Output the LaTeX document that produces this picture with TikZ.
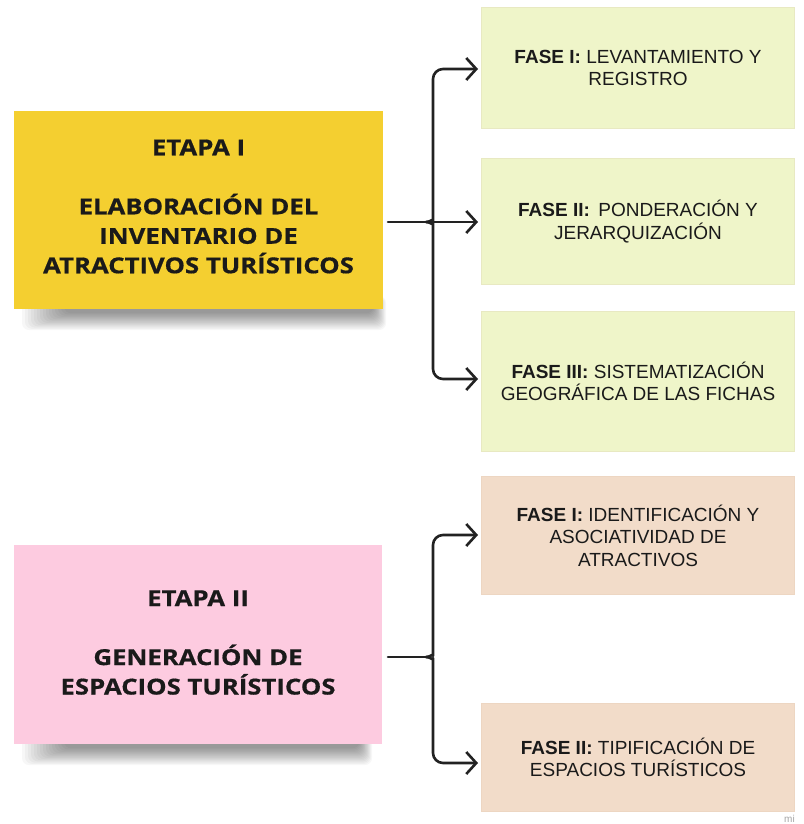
\documentclass[tikz,border=0pt]{standalone}
\usepackage{fontspec}
\newfontfamily\opensans{Open Sans}[FakeStretch=1.17,FakeBold=0.6]
\newfontfamily\arialf{Liberation Sans}
\usetikzlibrary{arrows.meta}
\definecolor{ink}{HTML}{1A1A1A}
\definecolor{lineink}{HTML}{222222}
\definecolor{yellowbox}{HTML}{F4CF30}
\definecolor{pinkbox}{HTML}{FDCBE0}
\definecolor{greenbox}{HTML}{EFF5C9}
\definecolor{greenedge}{HTML}{E8E9C2}
\definecolor{peachbox}{HTML}{F2DCC9}
\definecolor{peachedge}{HTML}{EDD6C2}
\begin{document}
\begin{tikzpicture}[x=1pt,y=-1pt,
  stagebox/.style={inner sep=0pt},
  stagetext/.style={inner sep=0pt, align=center, text=ink,
    font=\opensans\bfseries\fontsize{22}{29.5}\selectfont},
  phase/.style={line width=1.5pt, minimum width=313pt, inner sep=0pt, align=center, text=ink,
    font=\arialf\fontsize{19}{22.5}\selectfont},
  conn/.style={line width=2.6pt, draw=lineink, line cap=round, line join=round},
  tip/.style={-{Straight Barb[length=10pt,width=22pt]}}]
\useasboundingbox (0,0) rectangle (803,824);
\fill[white] (0,0) rectangle (803,824);
% shadows
\foreach \k in {0,...,14}{
  \fill[black,opacity=0.03,rounded corners=7pt] (22+3*\k,296) rectangle (386-0.9*\k,330-1.2*\k);
  \fill[black,opacity=0.03,rounded corners=7pt] (22+3*\k,731) rectangle (372-0.9*\k,765-1.2*\k);
}
% stage boxes
\node[stagebox, fill=yellowbox, minimum width=369pt, minimum height=198pt] (e1) at (198.5,210) {};
\node[stagetext] (e1t) at (198.5,206.5) {ETAPA I\\[29.5pt]ELABORACIÓN DEL\\INVENTARIO DE\\ATRACTIVOS TURÍSTICOS};
\node[stagebox, fill=pinkbox, minimum width=368pt, minimum height=199pt] (e2) at (198,644.5) {};
\node[stagetext] (e2t) at (198,642.5) {ETAPA II\\[29.5pt]GENERACIÓN DE\\ESPACIOS TURÍSTICOS};
% phase boxes
\node[phase, fill=greenbox, draw=greenedge, minimum height=121pt] (f1) at (638,68) {\textbf{FASE I:} LEVANTAMIENTO Y\\REGISTRO};
\node[phase, fill=greenbox, draw=greenedge, minimum height=126pt] (f2) at (638,221.5) {\textbf{FASE II:}\, PONDERACIÓN Y\\JERARQUIZACIÓN};
\node[phase, fill=greenbox, draw=greenedge, minimum height=140pt] (f3) at (638,381.5) {\textbf{FASE III:} SISTEMATIZACIÓN\\GEOGRÁFICA DE LAS FICHAS};
\node[phase, fill=peachbox, draw=peachedge, minimum height=118pt] (f4) at (638,535.5) {\textbf{FASE I:} IDENTIFICACIÓN Y\\ASOCIATIVIDAD DE\\ATRACTIVOS};
\node[phase, fill=peachbox, draw=peachedge, minimum height=108pt] (f5) at (638,757.5) {\textbf{FASE II:} TIPIFICACIÓN DE\\ESPACIOS TURÍSTICOS};
% connector points
\coordinate (s1) at (388,222);
\coordinate (j1) at (426,222);
\coordinate (t1) at (478,69);
\coordinate (t2) at (478,222);
\coordinate (t3) at (478,379);
\coordinate (s2) at (388,657);
\coordinate (j2) at (426,657);
\coordinate (t4) at (478,535);
\coordinate (t5) at (478,763);
% top group
\draw[conn,tip] (s1) -- (t2);
\draw[conn,tip,rounded corners=10pt] (j1) .. controls (431,222) and (433,218) .. (433,211) -- (433,69) -- (t1);
\draw[conn,tip,rounded corners=10pt] (j1) .. controls (431,222) and (433,226) .. (433,233) -- (433,379) -- (t3);
% bottom group
\draw[conn] (s2) -- (j2);
\draw[conn,tip,rounded corners=10pt] (j2) .. controls (431,657) and (433,653) .. (433,646) -- (433,535) -- (t4);
\draw[conn,tip,rounded corners=10pt] (j2) .. controls (431,657) and (433,661) .. (433,668) -- (433,763) -- (t5);
% watermark fragment
\node[anchor=south west, text=black!35, font=\arialf\fontsize{10}{10}\selectfont, inner sep=0pt] (wm) at (784,823) {mi};
\end{tikzpicture}
\end{document}
